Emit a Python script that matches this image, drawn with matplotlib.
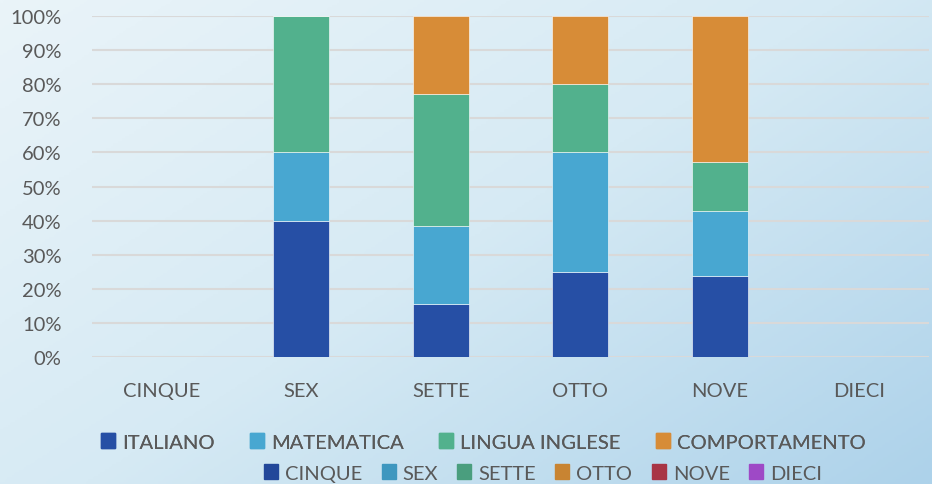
import numpy as np
import matplotlib
matplotlib.use("Agg")
import matplotlib.pyplot as plt
from matplotlib.patches import Patch
from matplotlib.colors import LinearSegmentedColormap

plt.rcParams['font.family'] = ['Lato', 'DejaVu Sans']

# data (percent of each grade bar)
categories = ['CINQUE', 'SEX', 'SETTE', 'OTTO', 'NOVE', 'DIECI']
italiano = [0, 40, 15.4, 25, 23.8, 0]
matematica = [0, 20, 23.1, 35, 19.0, 0]
inglese = [0, 40, 38.5, 20, 14.3, 0]
comportamento = [0, 0, 23.1, 20, 42.9, 0]

series_names = ['ITALIANO', 'MATEMATICA', 'LINGUA INGLESE', 'COMPORTAMENTO']
series_colors = ['#264FA5', '#48A7D1', '#52B18D', '#D78C37']
extra_names = ['CINQUE', 'SEX', 'SETTE', 'OTTO', 'NOVE', 'DIECI']
extra_colors = ['#22479A', '#3E97BF', '#4A9E7E', '#C88432', '#A83545', '#9E49C6']

txt = '#595959'
fs = 14.5

fig = plt.figure(figsize=(9.32, 4.85), dpi=100)

# background gradient
bg = fig.add_axes([0, 0, 1, 1], zorder=-10)
yy, xx = np.mgrid[0:1:200j, 0:1:400j]
grad = 0.55 * xx + 0.45 * yy
cmap = LinearSegmentedColormap.from_list('bg', ['#EAF4F9', '#D6EAF4', '#ADD2EA'])
bg.imshow(grad, cmap=cmap, aspect='auto', extent=[0, 1, 0, 1], origin='upper')
bg.set_axis_off()

ax = fig.add_axes([92/932, 1 - 358/485, (929 - 92)/932, (358 - 17)/485])
ax.set_facecolor('none')

x = np.arange(len(categories))
bottom = np.zeros(len(categories))
for vals, col in zip([italiano, matematica, inglese, comportamento], series_colors):
    vals = np.array(vals, dtype=float)
    ax.bar(x, vals, 0.4, bottom=bottom, color=col, edgecolor='#FFFFFF', linewidth=0.4, zorder=3)
    bottom += vals

ax.set_xlim(-0.5, len(categories) - 0.5)
ax.set_ylim(0, 100)
ax.set_yticks(np.arange(0, 101, 10))
ax.set_yticklabels([f'{v}%' for v in range(0, 101, 10)])
ax.set_xticks(x)
ax.set_xticklabels(categories)
ax.yaxis.grid(True, color='#D9D9D9', linewidth=1.5, zorder=0)
ax.set_axisbelow(True)
for s in ax.spines.values():
    s.set_visible(False)
ax.tick_params(axis='both', length=0, labelsize=fs, colors=txt)
ax.tick_params(axis='x', pad=18)
ax.tick_params(axis='y', pad=22)

h1 = [Patch(color=c) for c in series_colors]
leg1 = fig.legend(h1, series_names, loc='center', bbox_to_anchor=(483/932, 1 - 443/485),
                  ncol=4, frameon=False, fontsize=fs, labelcolor=txt,
                  handlelength=0.7, handleheight=0.7, handletextpad=0.35,
                  columnspacing=1.75, borderpad=0, borderaxespad=0)
h2 = [Patch(color=c) for c in extra_colors]
leg2 = fig.legend(h2, extra_names, loc='center', bbox_to_anchor=(543/932, 1 - 474/485),
                  ncol=6, frameon=False, fontsize=fs, labelcolor=txt,
                  handlelength=0.7, handleheight=0.7, handletextpad=0.35,
                  columnspacing=0.95, borderpad=0, borderaxespad=0)
fig.add_artist(leg1)

fig.savefig('out.png', dpi=100)
